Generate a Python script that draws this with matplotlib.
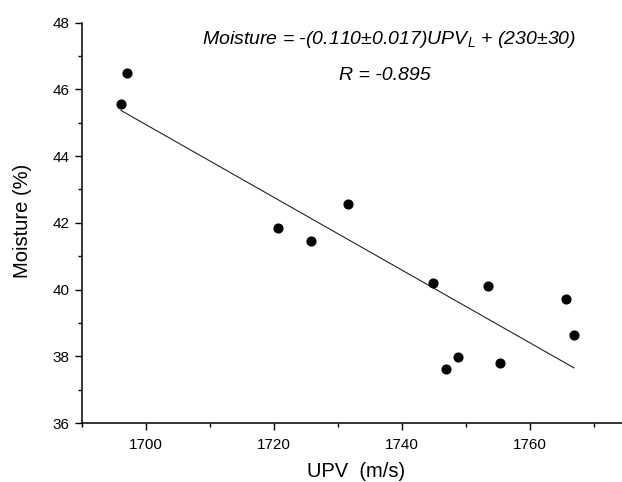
import matplotlib
matplotlib.use("Agg")
import matplotlib.pyplot as plt
import numpy as np
from matplotlib.ticker import MultipleLocator

plt.rcParams['font.family'] = ['Liberation Sans', 'DejaVu Sans']
plt.rcParams['mathtext.fontset'] = 'custom'
plt.rcParams['mathtext.it'] = 'Liberation Sans:italic'
plt.rcParams['mathtext.rm'] = 'Liberation Sans'

# data
upv = [1696.1, 1697.0, 1720.6, 1725.8, 1731.5, 1744.8,
       1746.9, 1748.75, 1753.5, 1755.4, 1765.7, 1766.9]
moisture = [45.55, 46.50, 41.84, 41.47, 42.55, 40.19,
            37.61, 37.97, 40.10, 37.80, 39.72, 38.65]

# linear fit
slope, intercept = np.polyfit(upv, moisture, 1)
fit_x = np.array([min(upv), max(upv)])
fit_y = slope * fit_x + intercept

fig = plt.figure(figsize=(6.22, 4.82), dpi=100)
ax = fig.add_axes([0.1318, 0.1224, 0.8682, 0.8306])

ax.plot(fit_x, fit_y, color="#222222", linewidth=0.8)
ax.plot(upv, moisture, "o", color="black", markersize=6.3)

ax.set_xlim(1690, 1774.4)
ax.set_ylim(36, 48)
ax.xaxis.set_major_locator(MultipleLocator(20))
ax.xaxis.set_minor_locator(MultipleLocator(10))
ax.yaxis.set_major_locator(MultipleLocator(2))
ax.yaxis.set_minor_locator(MultipleLocator(1))

for s in ["top", "right"]:
    ax.spines[s].set_visible(False)
for s in ["left", "bottom"]:
    ax.spines[s].set_linewidth(1.1)

ax.tick_params(which="major", direction="out", length=5, width=1, labelsize=11, colors="black")
ax.tick_params(which="minor", direction="out", length=2.8, width=1)
ax.tick_params(axis="x", pad=5.5)
ax.tick_params(axis="y", pad=4)

ax.set_xlabel("UPV  (m/s)", fontsize=14.5)
ax.set_ylabel("Moisture (%)", fontsize=14.5)
ax.xaxis.set_label_coords(0.507, -0.097)
ax.yaxis.set_label_coords(-0.092, 0.506)

ax.text(389 / 622, 1 - 40 / 482, "Moisture = -(0.110±0.017)UPV$_L$ + (230±30)",
        transform=fig.transFigure, ha="center", va="center", fontsize=14,
        style="italic")
ax.text(385 / 622, 1 - 75 / 482, "R = -0.895", transform=fig.transFigure,
        ha="center", va="center", fontsize=14, style="italic")

fig.savefig("out.png", dpi=100)
